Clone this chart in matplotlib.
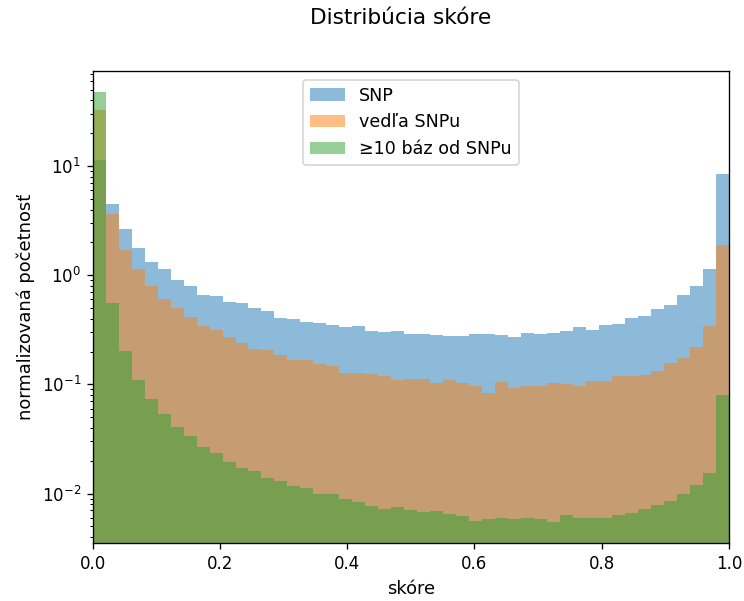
import numpy as np
import matplotlib
matplotlib.use("Agg")
import matplotlib.pyplot as plt

# 49 equal-width score bins on [0, 1]
bin_edges = np.linspace(0.0, 1.0, 50)

# normalised counts (density) per bin
snp = [11.4, 4.52, 2.67, 1.79, 1.33, 1.13, 0.913, 0.805, 0.653, 0.640,
       0.563, 0.552, 0.497, 0.466, 0.402, 0.394, 0.370, 0.362, 0.347, 0.333,
       0.340, 0.306, 0.300, 0.306, 0.288, 0.288, 0.282, 0.276, 0.276, 0.288,
       0.288, 0.282, 0.270, 0.294, 0.288, 0.294, 0.306, 0.333, 0.313, 0.347,
       0.355, 0.402, 0.420, 0.486, 0.529, 0.653, 0.789, 1.15, 8.49]
near_snp = [32.6, 3.66, 1.72, 1.13, 0.789, 0.612, 0.497, 0.411, 0.340, 0.313,
            0.270, 0.238, 0.209, 0.205, 0.185, 0.166, 0.166, 0.153, 0.147, 0.127,
            0.127, 0.124, 0.119, 0.109, 0.112, 0.112, 0.103, 0.109, 0.103, 0.0962,
            0.0831, 0.105, 0.0922, 0.0962, 0.0962, 0.103, 0.1005, 0.0962, 0.107, 0.107,
            0.119, 0.119, 0.121, 0.132, 0.156, 0.173, 0.219, 0.340, 1.91]
far_snp = [47.3, 0.552, 0.201, 0.109, 0.0733, 0.0534, 0.0407, 0.0336, 0.0267, 0.0235,
           0.0195, 0.0172, 0.0161, 0.0139, 0.0131, 0.0117, 0.0113, 0.00993, 0.00993, 0.00895,
           0.00840, 0.00772, 0.00725, 0.00755, 0.00710, 0.00680, 0.00695, 0.00653, 0.00625, 0.00563,
           0.00588, 0.00600, 0.00588, 0.00600, 0.00588, 0.00551, 0.00638, 0.00600, 0.00600, 0.00600,
           0.00638, 0.00667, 0.00725, 0.00788, 0.00857, 0.00993, 0.0120, 0.0154, 0.0796]

labels = ["SNP", "vedľa SNPu", "≥10 báz od SNPu"]

centers = (bin_edges[:-1] + bin_edges[1:]) / 2

fig = plt.figure(figsize=(6.2, 601 / 120), dpi=120)
ax = fig.add_axes([0.1246, 0.096, 0.855, 0.786])

for values, label in zip([snp, near_snp, far_snp], labels):
    ax.hist(centers, bins=bin_edges, weights=values, alpha=0.5, label=label)

ax.set_yscale("log")
ax.set_xlim(0, 1)
ax.set_xlabel("skóre", fontsize=10.7)
ax.set_ylabel("normalizovaná početnosť", fontsize=10.7)
ax.legend(loc="upper center", fontsize=10.5)
fig.suptitle("Distribúcia skóre", x=0.539, y=0.97, va="center", fontsize=13)

fig.savefig("out.png", dpi=120)
